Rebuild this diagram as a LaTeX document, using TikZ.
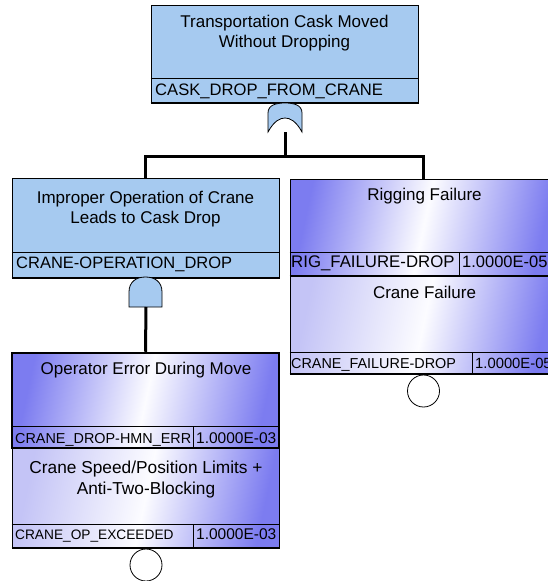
\documentclass[tikz,border=0pt]{standalone}
\usepackage{fontspec}
\setmainfont{Liberation Sans}
\definecolor{lblue}{RGB}{166,202,240}
\definecolor{gblue}{RGB}{124,124,240}
\definecolor{glight}{RGB}{196,196,246}
\definecolor{gwhite}{RGB}{252,252,255}
\begin{document}
\begin{tikzpicture}[x=1pt,y=-1pt,
  plainbox/.style={draw=black, line width=1pt, fill=lblue, inner sep=0pt, minimum width=267pt},
  gradbox/.style={draw=black, line width=1pt, left color=gblue, right color=gblue, middle color=gwhite, shading angle=78, inner sep=0pt, minimum width=267pt},
  gradboxb/.style={draw=black, line width=1pt, left color=glight, right color=gblue, middle color=gwhite, shading angle=78, inner sep=0pt, minimum width=267pt},
  sep/.style={draw=black, line width=1pt},
  shadow/.style={draw=black, line width=2pt},
  conn/.style={draw=black, line width=3pt},
  gate/.style={draw=black, line width=0.8pt, fill=lblue},
  basic/.style={circle, draw=black, line width=0.8pt, fill=white, minimum size=32pt, inner sep=0pt},
  ttl/.style={anchor=base, inner sep=0pt, font=\fontsize{17}{20}\selectfont},
  idt/.style={anchor=base west, inner sep=0pt},
  val/.style={anchor=base west, inner sep=0pt}
]
\useasboundingbox (0,0) rectangle (548,581);

% ---------- top event ----------
\node[plainbox, minimum height=97pt] (top) at (284.5,53.5) {};
\draw[sep] (top.west |- 0,78) -- (top.east |- 0,78);
\draw[shadow] (top.south west) -- (top.south east);
\node[ttl] (t1) at (284.5,27) {Transportation Cask Moved};
\node[ttl] (t2) at (284.5,47) {Without Dropping};
\node[idt, font=\fontsize{16.6}{20}\selectfont] (tid) at (155,95) {CASK\_DROP\_FROM\_CRANE};

% OR gate
\path[gate] (268,132) -- (268,113) .. controls (268,105) and (276,103) .. (285,103)
  .. controls (294,103) and (302,105) .. (302,113) -- (302,132)
  .. controls (296,121) and (290,118) .. (285,118)
  .. controls (280,118) and (274,121) .. (268,132) -- cycle;
\coordinate (orout) at (285,132);

% ---------- left intermediate ----------
\node[plainbox, minimum height=99pt] (imp) at (145.5,227.5) {};
\draw[sep] (imp.west |- 0,252) -- (imp.east |- 0,252);
\draw[shadow] (imp.south west) -- (imp.south east);
\node[ttl] (i1) at (145.5,203) {Improper Operation of Crane};
\node[ttl] (i2) at (145.5,223) {Leads to Cask Drop};
\node[idt, font=\fontsize{16.5}{20}\selectfont] (iid) at (16,268) {CRANE-OPERATION\_DROP};

% AND gate
\path[gate] (129,307) -- (129,292) .. controls (129,282) and (136,277) .. (145.5,277)
  .. controls (155,277) and (162,282) .. (162,292) -- (162,307) -- cycle;
\coordinate (andout) at (146,307);

% ---------- right events ----------
\node[gradboxb, minimum height=98pt] (cf) at (423.5,324) {};
\draw[sep] (cf.west |- 0,352) -- (cf.east |- 0,352);
\draw[sep] (472,352) -- (472,373);
\draw[shadow] (cf.south west) -- (cf.south east);
\node[ttl] (c1) at (424.5,298) {Crane Failure};
\node[idt, font=\fontsize{14.4}{18}\selectfont] (cid) at (291,368) {CRANE\_FAILURE-DROP};
\node[val, font=\fontsize{14.8}{18}\selectfont] (cv) at (475,368) {1.0000E-05};
\node[basic] (cc) at (423.5,391) {};

\node[gradbox, minimum height=96pt] (rig) at (423.5,227) {};
\draw[sep] (rig.west |- 0,252) -- (rig.east |- 0,252);
\draw[sep] (459,252) -- (459,275);
\draw[shadow] (rig.south west) -- (rig.south east);
\node[ttl] (r1) at (424.5,200) {Rigging Failure};
\node[idt, font=\fontsize{16.8}{20}\selectfont] (rid) at (291,267) {RIG\_FAILURE-DROP};
\node[val, font=\fontsize{16.5}{20}\selectfont] (rv) at (462,267) {1.0000E-05};

% ---------- left bottom events ----------
\node[gradboxb, minimum height=99pt] (spd) at (145.5,497.5) {};
\draw[sep] (spd.west |- 0,524) -- (spd.east |- 0,524);
\draw[sep] (193,524) -- (193,547);
\draw[shadow] (spd.south west) -- (spd.south east);
\node[ttl, font=\fontsize{17.3}{20}\selectfont] (s1) at (146,473) {Crane Speed/Position Limits +};
\node[ttl, font=\fontsize{17.3}{20}\selectfont] (s2) at (146,494) {Anti-Two-Blocking};
\node[idt, font=\fontsize{13.7}{18}\selectfont] (sid) at (15,539) {CRANE\_OP\_EXCEEDED};
\node[val, font=\fontsize{15.5}{18}\selectfont] (sv) at (196,539) {1.0000E-03};
\node[basic] (sc) at (146,565) {};

\node[gradbox, line width=2.5pt, minimum height=95pt] (op) at (145.5,400.5) {};
\draw[sep] (op.west |- 0,426) -- (op.east |- 0,426);
\draw[sep] (193,426) -- (193,448);
\node[ttl] (o1) at (146,374) {Operator Error During Move};
\node[idt, font=\fontsize{14.4}{18}\selectfont] (oid) at (15,443) {CRANE\_DROP-HMN\_ERR};
\node[val, font=\fontsize{15.5}{18}\selectfont] (ov) at (196,443) {1.0000E-03};

% ---------- connectors ----------
\coordinate (bar) at (285,156);
\draw[conn] (orout) -- (bar);
\draw[conn] (imp.north) |- (bar) -| (rig.north);
\draw[conn] (andout) -- (op.north);
\end{tikzpicture}
\end{document}
